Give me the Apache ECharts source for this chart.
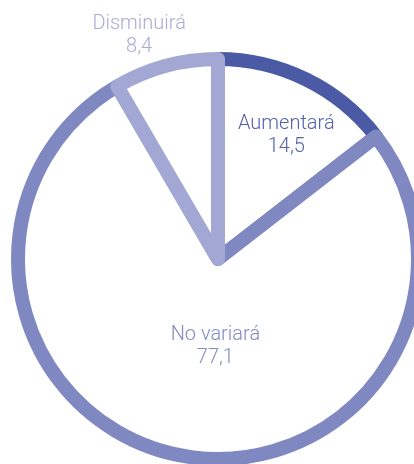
<!DOCTYPE html>
<html>
<head>
<meta charset="utf-8">
<script src="https://cdn.jsdelivr.net/npm/echarts@6/dist/echarts.min.js"></script>
<style>
html,body{margin:0;padding:0;background:#fff;}
#chart{width:414px;height:464px;}
</style>
</head>
<body>
<div id="chart"></div>
<script>
var categories = ['Aumentará', 'No variará', 'Disminuirá'];
var values = [14.5, 77.1, 8.4];

var borderColors = ['#4b5aa5', '#7f88c0', '#a3a7d4'];
var labelColors = ['#5362ab', '#8189c3', '#a9acd6'];
var labelOffsets = [[23, -31], [17, -14], [-52, -124]];

var chart = echarts.init(document.getElementById('chart'), null, {renderer: 'canvas'});

var data = categories.map(function (c, i) {
  return {
    name: c,
    value: values[i],
    itemStyle: {
      color: '#ffffff',
      borderColor: borderColors[i],
      borderWidth: 14,
      borderJoin: 'round'
    },
    label: {
      color: labelColors[i],
      offset: labelOffsets[i]
    }
  };
});

chart.setOption({
  animation: false,
  backgroundColor: '#ffffff',
  series: [{
    type: 'pie',
    center: [218, 259],
    radius: [0, 200],
    startAngle: 90,
    clockwise: true,
    avoidLabelOverlap: false,
    emphasis: {disabled: true},
    labelLine: {show: false},
    label: {
      show: true,
      position: 'inside',
      fontFamily: 'Roboto, Liberation Sans, Arial, sans-serif',
      fontWeight: 300,
      fontSize: 20,
      lineHeight: 23,
      align: 'center',
      formatter: function (p) {
        return p.name + '\n' + String(p.value).replace('.', ',');
      }
    },
    data: data
  }]
});
</script>
</body>
</html>
